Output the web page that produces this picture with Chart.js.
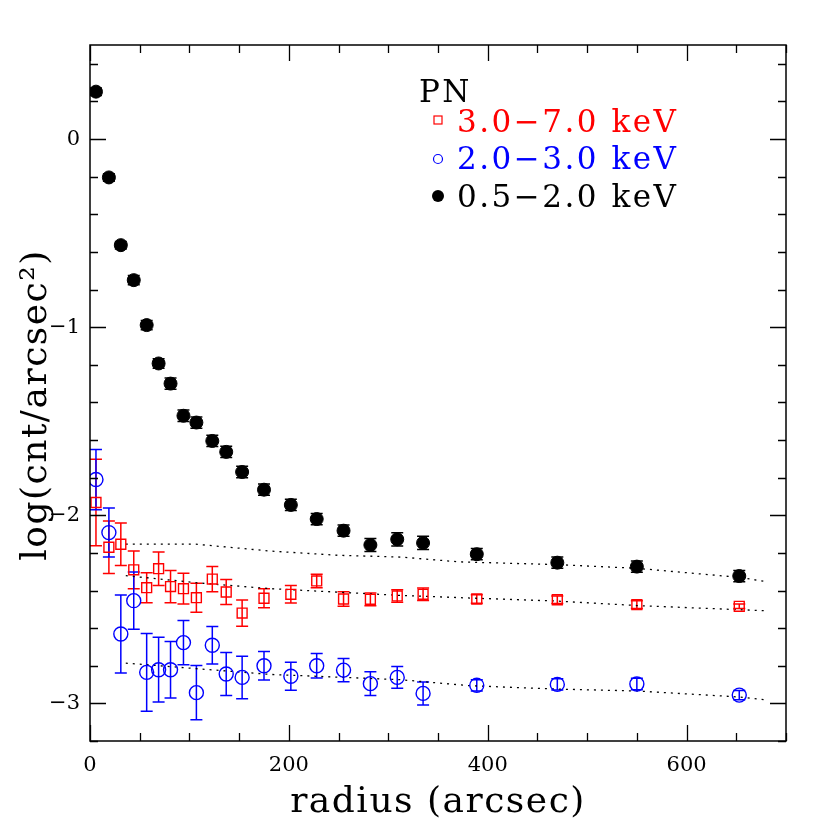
<!DOCTYPE html>
<html><head><meta charset="utf-8">
<script src="https://cdn.jsdelivr.net/npm/chart.js@4/dist/chart.umd.min.js"></script>
<style>html,body{margin:0;padding:0;background:#fff}</style>
</head><body>
<canvas id="c" width="830" height="830"></canvas>
<script>
// ---- data ----
const radius = [6, 19, 31, 44, 57, 69, 81, 94, 107, 123, 137, 153, 175, 202, 228, 255, 282, 309, 335, 389, 470, 550, 653];

const soft    = [0.252, -0.204, -0.564, -0.750, -0.989, -1.193, -1.300, -1.471, -1.507, -1.605, -1.663, -1.770, -1.864, -1.945, -2.020, -2.082, -2.158, -2.128, -2.147, -2.207, -2.252, -2.273, -2.323];
const softErr = [0.02, 0.02, 0.02, 0.025, 0.025, 0.025, 0.03, 0.03, 0.03, 0.03, 0.03, 0.03, 0.03, 0.03, 0.03, 0.03, 0.035, 0.035, 0.035, 0.03, 0.03, 0.03, 0.03];

const hard    = [-1.932, -2.170, -2.154, -2.290, -2.385, -2.284, -2.379, -2.390, -2.438, -2.339, -2.408, -2.520, -2.441, -2.420, -2.349, -2.445, -2.447, -2.429, -2.420, -2.445, -2.449, -2.475, -2.484];
const hardErr = [0.23, 0.14, 0.113, 0.10, 0.08, 0.089, 0.086, 0.082, 0.077, 0.067, 0.067, 0.07, 0.05, 0.046, 0.036, 0.039, 0.034, 0.033, 0.033, 0.023, 0.02, 0.02, 0.012];

const mid     = [-1.810, -2.092, -2.631, -2.454, -2.835, -2.821, -2.821, -2.677, -2.943, -2.691, -2.844, -2.862, -2.800, -2.856, -2.800, -2.823, -2.895, -2.862, -2.947, -2.904, -2.899, -2.897, -2.956];
const midErr  = [0.16, 0.13, 0.207, 0.152, 0.207, 0.172, 0.15, 0.118, 0.144, 0.10, 0.114, 0.113, 0.076, 0.074, 0.065, 0.062, 0.063, 0.058, 0.061, 0.03, 0.03, 0.03, 0.025];

// background model curves (dotted)
const modelSoftX = [36, 105, 181, 250, 312, 372, 469, 550, 653, 678];
const modelSoftY = [-2.153, -2.153, -2.19, -2.213, -2.222, -2.248, -2.262, -2.282, -2.33, -2.351];
const modelHardX = [36, 110, 181, 312, 382, 469, 550, 653, 678];
const modelHardY = [-2.321, -2.36, -2.39, -2.426, -2.44, -2.456, -2.48, -2.502, -2.507];
const modelMidX  = [36, 181, 312, 382, 469, 550, 653, 678];
const modelMidY  = [-2.786, -2.846, -2.874, -2.906, -2.924, -2.934, -2.966, -2.98];

const xTicks = [0, 200, 400, 600];
const yTicks = [0, -1, -2, -3];
const xMinorStep = 50, yMinorStep = 0.2;

const legendTitle = 'PN';
const seriesLabels = ['3.0\u22127.0 keV', '2.0\u22123.0 keV', '0.5\u22122.0 keV'];
const xTitle = 'radius (arcsec)';
const yTitle = 'log(cnt/arcsec\u00B2)';

// ---- helpers ----
const pts = (xs, ys) => xs.map((x, i) => ({x: x, y: ys[i]}));
const SERIF = '"DejaVu Serif", serif';
const fmt = v => (v < 0 ? '\u2212' + Math.abs(v) : String(v));

const errSets = [
  {ys: hard, es: hardErr, color: '#ff0000'},
  {ys: mid,  es: midErr,  color: '#0000ff'},
  {ys: soft, es: softErr, color: '#000000'}
];

const errorBars = {
  id: 'errorBars',
  beforeDatasetsDraw(chart) {
    const {ctx, chartArea: a, scales: {x, y}} = chart;
    ctx.save();
    ctx.beginPath(); ctx.rect(a.left, a.top, a.right - a.left, a.bottom - a.top); ctx.clip();
    ctx.lineWidth = 1.5;
    errSets.forEach(s => {
      ctx.strokeStyle = s.color;
      radius.forEach((r, i) => {
        const px = x.getPixelForValue(r);
        const y1 = y.getPixelForValue(s.ys[i] + s.es[i]);
        const y2 = y.getPixelForValue(s.ys[i] - s.es[i]);
        const cw = 6;
        ctx.beginPath();
        ctx.moveTo(px, y1); ctx.lineTo(px, y2);
        ctx.moveTo(px - cw, y1); ctx.lineTo(px + cw, y1);
        ctx.moveTo(px - cw, y2); ctx.lineTo(px + cw, y2);
        ctx.stroke();
      });
    });
    ctx.restore();
  }
};

const frame = {
  id: 'frame',
  afterDatasetsDraw(chart) {
    const {ctx, chartArea: a, scales: {x, y}} = chart;
    ctx.save();
    ctx.strokeStyle = '#000'; ctx.lineWidth = 1.5;
    ctx.strokeRect(a.left, a.top, a.right - a.left, a.bottom - a.top);
    ctx.lineWidth = 1.3;
    ctx.beginPath();
    for (let k = 0; ; k++) {
      const v = x.min + k * xMinorStep;
      if (v > x.max + 1e-9) break;
      const px = Math.round(x.getPixelForValue(v)) + 0.5;
      const major = xTicks.some(t => Math.abs(t - v) < 1e-6);
      const len = major ? 16 : 8;
      ctx.moveTo(px, a.bottom); ctx.lineTo(px, a.bottom - len);
      ctx.moveTo(px, a.top); ctx.lineTo(px, a.top + len);
    }
    for (let k = 0; ; k++) {
      const v = y.min + k * yMinorStep;
      if (v > y.max + 1e-9) break;
      const py = Math.round(y.getPixelForValue(v)) + 0.5;
      const major = yTicks.some(t => Math.abs(t - v) < 1e-6);
      const len = major ? 16 : 8;
      ctx.moveTo(a.left, py); ctx.lineTo(a.left + len, py);
      ctx.moveTo(a.right, py); ctx.lineTo(a.right - len, py);
    }
    ctx.stroke();
    ctx.restore();
  }
};

const texts = {
  id: 'texts',
  afterDraw(chart) {
    const {ctx, chartArea: a} = chart;
    ctx.save();
    ctx.fillStyle = '#000';
    // axis titles
    ctx.font = '36px ' + SERIF;
    ctx.letterSpacing = '1.5px';
    ctx.textAlign = 'center'; ctx.textBaseline = 'middle';
    ctx.fillText(xTitle, (a.left + a.right) / 2, 803);
    ctx.save();
    ctx.translate(37, (a.top + a.bottom) / 2 + 12);
    ctx.rotate(-Math.PI / 2);
    ctx.fillText(yTitle, 0, 0);
    ctx.restore();
    // legend
    ctx.font = '31px ' + SERIF;
    ctx.letterSpacing = '2.5px';
    ctx.textAlign = 'left'; ctx.textBaseline = 'alphabetic';
    ctx.fillText(legendTitle, 419, 102);
    const colors = ['#ff0000', '#0000ff', '#000000'];
    const rowsY = [132, 169, 207];
    seriesLabels.forEach((t, i) => {
      ctx.fillStyle = colors[i];
      ctx.fillText(t, 457, rowsY[i]);
    });
    ctx.lineWidth = 1.2;
    ctx.strokeStyle = '#ff0000';
    ctx.strokeRect(434, 116, 8, 8);
    ctx.strokeStyle = '#0000ff';
    ctx.beginPath(); ctx.arc(438, 159, 4.5, 0, Math.PI * 2); ctx.stroke();
    ctx.fillStyle = '#000';
    ctx.beginPath(); ctx.arc(438, 196, 6, 0, Math.PI * 2); ctx.fill();
    ctx.restore();
  }
};

const dotted = {showLine: true, pointRadius: 0, borderColor: '#000', borderWidth: 1.3, borderDash: [2, 5], fill: false, order: 5};

new Chart(document.getElementById('c'), {
  type: 'scatter',
  data: {
    datasets: [
      Object.assign({label: 'model soft', data: pts(modelSoftX, modelSoftY)}, dotted),
      Object.assign({label: 'model hard', data: pts(modelHardX, modelHardY)}, dotted),
      Object.assign({label: 'model mid',  data: pts(modelMidX, modelMidY)}, dotted),
      {label: seriesLabels[0], data: pts(radius, hard), pointStyle: 'rect', pointRadius: 7,
       backgroundColor: 'rgba(0,0,0,0)', borderColor: '#ff0000', pointBorderWidth: 1.4, order: 3},
      {label: seriesLabels[1], data: pts(radius, mid), pointStyle: 'circle', pointRadius: 7,
       backgroundColor: 'rgba(0,0,0,0)', borderColor: '#0000ff', pointBorderWidth: 1.4, order: 2},
      {label: seriesLabels[2], data: pts(radius, soft), pointStyle: 'circle', pointRadius: 6.5,
       backgroundColor: '#000', borderColor: '#000', pointBorderWidth: 1, order: 1}
    ]
  },
  options: {
    responsive: false, animation: false, devicePixelRatio: 1, events: [],
    layout: {padding: {left: 0, right: 44, top: 45, bottom: 0}},
    plugins: {legend: {display: false}, tooltip: {enabled: false}},
    scales: {
      x: {
        type: 'linear', min: 0, max: 700,
        grid: {display: false, drawTicks: false}, border: {display: false},
        ticks: {font: {family: 'DejaVu Serif', size: 21}, color: '#000', padding: 12, maxRotation: 0, autoSkip: false,
                callback: v => fmt(v)},
        afterBuildTicks: s => { s.ticks = xTicks.map(v => ({value: v})); },
        afterFit: s => { s.height = 89; }
      },
      y: {
        type: 'linear', min: -3.2, max: 0.5,
        grid: {display: false, drawTicks: false}, border: {display: false},
        ticks: {font: {family: 'DejaVu Serif', size: 21}, color: '#000', padding: 10, autoSkip: false,
                callback: v => fmt(v)},
        afterBuildTicks: s => { s.ticks = yTicks.map(v => ({value: v})); },
        afterFit: s => { s.width = 90; }
      }
    }
  },
  plugins: [errorBars, frame, texts]
});
</script>
</body></html>
